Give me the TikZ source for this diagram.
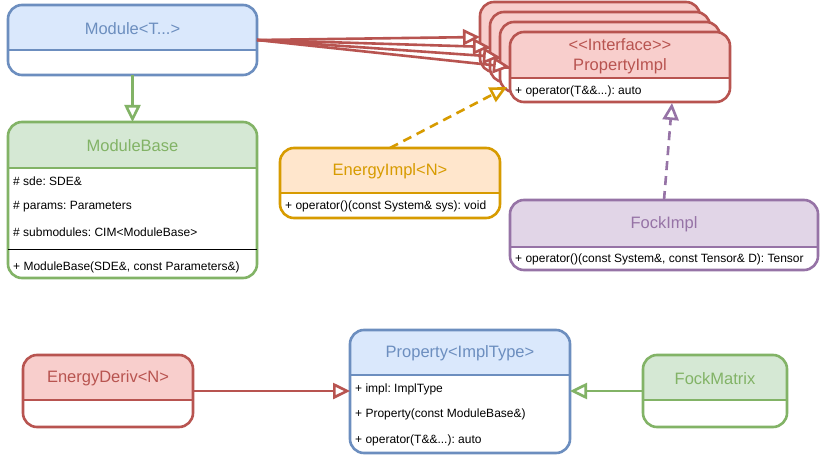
\documentclass[tikz,border=0pt]{standalone}
\usepackage{fontspec}
\setmainfont{Liberation Sans}
\usetikzlibrary{arrows.meta}
\definecolor{bS}{HTML}{6C8EBF}\definecolor{bF}{HTML}{DAE8FC}
\definecolor{gS}{HTML}{82B366}\definecolor{gF}{HTML}{D5E8D4}
\definecolor{rS}{HTML}{B85450}\definecolor{rF}{HTML}{F8CECC}
\definecolor{oS}{HTML}{D79B00}\definecolor{oF}{HTML}{FFE6CC}
\definecolor{pS}{HTML}{9673A6}\definecolor{pF}{HTML}{E1D5E7}
\tikzset{
  boxnode/.style={draw=none,inner sep=0,outer sep=0},
  hdr/.style={font=\fontsize{16.5}{20}\selectfont,align=center,inner sep=0},
  body/.style={font=\fontsize{12}{14}\selectfont,anchor=west,inner sep=0,text=black},
  conn/.style={line width=2.6,-{Triangle[length=17pt,width=16pt,fill=white,line width=2.6pt]}},
  dconn/.style={conn,dash pattern=on 9pt off 6pt},
}
% name, x1, y1, x2, y2, ydiv, stroke, fill, header
\newcommand\umlclass[9]{%
  \node[boxnode,minimum width={(#4-#2)*1pt},minimum height={(#5-#3)*1pt}] (#1) at ({(#2+#4)/2},{(#3+#5)/2}) {};
  \fill[white,rounded corners=14] (#2,#3) rectangle (#4,#5);
  \begin{scope}
    \clip[rounded corners=14] (#2,#3) rectangle (#4,#5);
    \fill[#8] (#2,#3) rectangle (#4,#6);
  \end{scope}
  \draw[#7,line width=2.6] (#2,#6) -- (#4,#6);
  \draw[#7,line width=2.6,rounded corners=14] (#2,#3) rectangle (#4,#5);
  \node[hdr,text=#7] at ({(#2+#4)/2},{(#3+#6)/2+1}) {#9};
}
\begin{document}
\frenchspacing
\begin{tikzpicture}[x=1pt,y=-1pt]
\useasboundingbox[fill=white] (0,0) rectangle (821,457);

\umlclass{mod}{8}{5}{257}{75}{50}{bS}{bF}{Module<T...>}

\umlclass{mb}{8}{122}{257}{278}{168}{gS}{gF}{ModuleBase}
\node[body] at (13,181) {\# sde: SDE\&};
\node[body] at (13,207) {\# params: Parameters};
\node[body] at (13,232) {\# submodules: CIM<ModuleBase>};
\draw[line width=1] (8,249) -- (257,249);
\node[body] at (13,267) {+ ModuleBase(SDE\&, const Parameters\&)};

\umlclass{pa}{480}{2}{700}{72}{48}{rS}{rF}{}
\umlclass{pb}{490}{12}{710}{82}{58}{rS}{rF}{}
\umlclass{pc}{500}{22}{720}{92}{68}{rS}{rF}{}
\umlclass{pd}{510}{32}{730}{102}{78}{rS}{rF}{<{}<Interface>{}>\\PropertyImpl}
\node[body] at (515,91) {+ operator(T\&\&...): auto};

\umlclass{ei}{280}{148}{500}{218}{193}{oS}{oF}{EnergyImpl<N>}
\node[body] at (285,206) {+ operator()(const System\& sys): void};

\umlclass{fi}{510}{200}{818}{270}{247}{pS}{pF}{FockImpl}
\node[body] at (515,259) {+ operator()(const System\&, const Tensor\& D): Tensor};

\umlclass{prop}{350}{330}{570}{453}{375}{bS}{bF}{Property<ImplType>}
\node[body] at (355,389) {+ impl: ImplType};
\node[body] at (355,414) {+ Property(const ModuleBase\&)};
\node[body] at (355,440) {+ operator(T\&\&...): auto};

\umlclass{ed}{23}{355}{193}{427}{400}{rS}{rF}{EnergyDeriv<N>}
\umlclass{fm}{643}{355}{787}{427}{400}{gS}{gF}{FockMatrix}

% connectors
\draw[conn,gS] (mod.south) -- (mb.north);
\draw[conn,rS] (mod.east) -- (pa.west);
\draw[conn,rS] (mod.east) -- (pb.west);
\draw[conn,rS] (mod.east) -- (pc.west);
\draw[conn,rS] (mod.east) -- (pd.west);
\coordinate (eiT) at (507,87);
\draw[dconn,oS] (ei.north) -- (eiT);
\coordinate (fiT) at (672,103);
\draw[dconn,pS] (fi.north) -- (fiT);
\draw[conn,rS] (ed.east) -- (ed.east -| prop.west);
\draw[conn,gS] (fm.west) -- (fm.west -| prop.east);
\end{tikzpicture}
\end{document}
